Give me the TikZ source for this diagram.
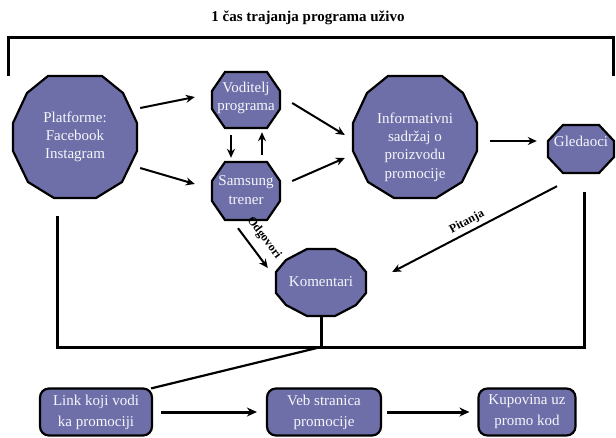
\documentclass[tikz,border=0pt]{standalone}
\usepackage{fontspec}
\setmainfont{Liberation Serif}
\usetikzlibrary{arrows.meta,calc}
\definecolor{shapefill}{RGB}{110,111,168}
\definecolor{shapetext}{RGB}{246,246,252}
\tikzset{
  shapeline/.style={draw=black, line width=2.2pt, fill=shapefill, line join=miter},
  txt/.style={text=shapetext, align=center, inner sep=0pt, font=\fontsize{15}{18.3}\selectfont},
  boxnode/.style={draw=black, line width=2.2pt, fill=shapefill, rounded corners=9pt, text=shapetext, align=center, inner sep=0pt, font=\fontsize{15}{21}\selectfont, minimum height=47pt},
  arr/.style={line width=2pt, -{Stealth[length=9pt,width=8pt]}},
  thickarr/.style={line width=3pt, -{Stealth[length=10pt,width=9pt]}},
  bracket/.style={line width=3pt, line join=miter},
  thinline/.style={line width=2.2pt},
  lbl/.style={font=\bfseries\fontsize{12}{14}\selectfont, inner sep=1pt},
  titlestyle/.style={font=\bfseries\fontsize{15}{18}\selectfont, inner sep=0pt}
}
\newcommand\shapepath[2]{\filldraw[shapeline,shift={#1}] #2;}
\begin{document}
\begin{tikzpicture}[x=1pt,y=-1pt]
\useasboundingbox (0,0) rectangle (616,437);

% title and top bracket
\node[titlestyle] (title) at (308,18) {1 čas trajanja programa uživo};
\draw[bracket] (8,76) -- (8,37) -- (613,37) -- (613,76);

% shapes
\shapepath{(75,137)}{(-27,-61) -- (27,-61) -- (48,-44) -- (62,-14) -- (62,14) -- (47,45) -- (21,61) -- (-21,61) -- (-47,45) -- (-62,14) -- (-62,-14) -- (-48,-44) -- cycle}
\shapepath{(415,137)}{(-27,-61) -- (27,-61) -- (48,-44) -- (62,-14) -- (62,14) -- (47,45) -- (21,61) -- (-21,61) -- (-47,45) -- (-62,14) -- (-62,-14) -- (-48,-44) -- cycle}
\shapepath{(246,100)}{(-21,-28) -- (21,-28) -- (34,-9) -- (34,9) -- (21,28) -- (-21,28) -- (-34,9) -- (-34,-9) -- cycle}
\shapepath{(246,191)}{(-21,-29) -- (21,-29) -- (34,-10) -- (34,10) -- (21,29) -- (-21,29) -- (-34,10) -- (-34,-10) -- cycle}
\shapepath{(581,149)}{(-18,-24) -- (18,-24) -- (33,-8) -- (33,8) -- (18,24) -- (-18,24) -- (-33,8) -- (-33,-8) -- cycle}
\shapepath{(321,282)}{(-14,-33) -- (14,-33) -- (35,-22) -- (45,-10) -- (45,11) -- (35,23) -- (14,34) -- (-14,34) -- (-35,23) -- (-45,11) -- (-45,-10) -- (-35,-22) -- cycle}

% text nodes
\node[txt, minimum width=124pt, minimum height=122pt] (plat) at (75,137) {Platforme:\\Facebook\\Instagram};
\node[txt, minimum width=124pt, minimum height=122pt] (info) at (415,147) {Informativni\\sadržaj o\\proizvodu\\promocije};
\node[txt, minimum width=68pt, minimum height=56pt] (vod) at (246,98) {Voditelj\\programa};
\node[txt, minimum width=68pt, minimum height=58pt] (sam) at (246,190) {Samsung\\trener};
\node[txt, minimum width=66pt, minimum height=48pt] (gled) at (581,141) {Gledaoci};
\node[txt, minimum width=70pt, minimum height=30pt] (kom) at (321,282) {Komentari};

% bottom boxes
\node[boxnode, minimum width=112pt] (link) at (96,412) {Link koji vodi\\ka promociji};
\node[boxnode, minimum width=114pt] (veb) at (324,412) {Veb stranica\\promocije};
\node[boxnode, minimum width=97pt] (kup) at (527,412) {Kupovina uz\\promo kod};

% arrows
\draw[arr] ([xshift=3pt,yshift=29pt]plat.east) -- ([xshift=-17pt,yshift=1pt]vod.west);
\draw[arr] ([xshift=3pt,yshift=-31pt]plat.east) -- ([xshift=-17pt,yshift=6pt]sam.west);
\draw[arr] ([xshift=-15pt,yshift=-9pt]vod.south) -- ([xshift=-15pt,yshift=3pt]sam.north);
\draw[arr] ([xshift=16pt,yshift=6pt]sam.north) -- ([xshift=16pt,yshift=-6pt]vod.south);
\draw[arr] ([xshift=12pt,yshift=-5pt]vod.east) -- ([xshift=-8pt,yshift=12pt]info.west);
\draw[arr] ([xshift=12pt,yshift=9pt]sam.east) -- ([xshift=-8pt,yshift=-11pt]info.west);
\draw[arr] ([xshift=13pt,yshift=6pt]info.east) -- ([xshift=-11pt]gled.west);
\draw[arr] ([xshift=-24pt,yshift=-21pt]gled.south) -- ([xshift=36pt,yshift=10pt]kom.east);
\draw[arr] ([xshift=-8pt,yshift=-9pt]sam.south) -- ([xshift=-18pt,yshift=14pt]kom.west);

% labels
\node[lbl, rotate=28] (pit) at (467,222) {Pitanja};
\node[lbl, rotate=-53] (odg) at (264,238) {Odgovori};

% bottom bus
\coordinate (busR) at (584,347);
\coordinate (busM) at (321,347);
\draw[bracket] ([xshift=-18pt,yshift=-18pt]plat.south) |- (busR) -- ([xshift=3pt,yshift=-27pt]gled.south);
\draw[bracket] ([yshift=-19pt]kom.south) -- (busM);
\draw[thinline] (busM) -- ([xshift=-2pt,yshift=-1pt]link.north east);

\draw[thickarr] ([xshift=8pt]link.east) -- ([xshift=-9pt]veb.west);
\draw[thickarr] ([xshift=5pt]veb.east) -- ([xshift=-8pt]kup.west);
\end{tikzpicture}
\end{document}
